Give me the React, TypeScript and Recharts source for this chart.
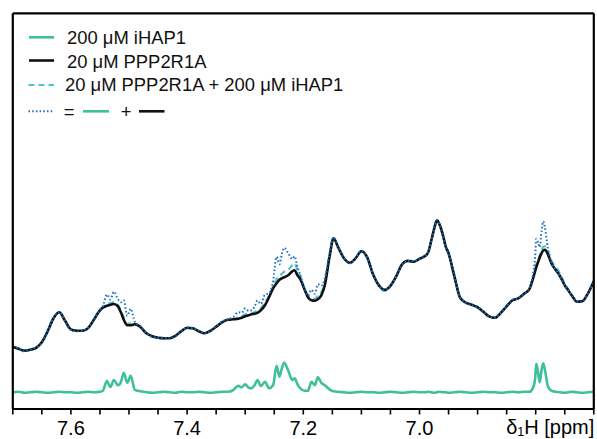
import React from 'react';
import { LineChart, Line, XAxis, YAxis, Customized, Label } from 'recharts';

// Chemical shift grid (ppm), denser around the iHAP1 multiplets
const ppm = [
  7.70, 7.69, 7.68, 7.67, 7.66, 7.65, 7.64, 7.63, 7.62, 7.61, 7.60, 7.59, 7.58, 7.57, 7.56, 7.55,
  7.545, 7.538, 7.532, 7.526, 7.519, 7.514, 7.509, 7.503, 7.497, 7.49,
  7.48, 7.47, 7.46, 7.45, 7.44, 7.43, 7.42, 7.41, 7.40, 7.39, 7.38, 7.37, 7.36, 7.35, 7.34, 7.33,
  7.32, 7.312, 7.306, 7.30, 7.294, 7.289, 7.284, 7.279, 7.273, 7.266, 7.259, 7.252, 7.246, 7.241, 7.237,
  7.233, 7.226, 7.219, 7.215, 7.21, 7.205, 7.198, 7.192, 7.186, 7.18, 7.175, 7.169, 7.163, 7.155, 7.148,
  7.14, 7.13, 7.12, 7.11, 7.10, 7.09, 7.08, 7.07, 7.06, 7.05, 7.04, 7.03, 7.02, 7.01, 7.00, 6.99,
  6.985, 6.98, 6.975, 6.97, 6.965, 6.96, 6.955, 6.95, 6.94, 6.93, 6.92, 6.91, 6.90, 6.89, 6.88, 6.87,
  6.86, 6.85, 6.84, 6.83, 6.82,
  6.811, 6.805, 6.801, 6.799, 6.796, 6.793, 6.79, 6.787, 6.784, 6.779, 6.773, 6.765, 6.758, 6.75,
  6.744, 6.737, 6.729, 6.72, 6.71, 6.70,
];

// 200 µM iHAP1 alone
const ihap1 = [
  0, 0.5, -0.5, 0, 0.5, 0, -0.5, 0, 0.5, 0, 0, -0.5, 0, 0.5, 0, 0.5,
  1.5, 11.3, 5.3, 12.3, 7, 10, 19.5, 9.5, 16.5, 2.5,
  1, 0, -0.5, 0, 0.5, 0, -0.5, 0.5, 0, 0, 0.5, 0, -0.5, 0, 0.5, 0.5,
  2.5, 6.5, 5, 8, 4.5, 4, 7, 12.3, 6.3, 10.6, 4, 7, 26.5, 15.5, 24,
  29.5, 22, 12.3, 14, 8, 4, 1.5, 1.5, 10.5, 7, 15, 9.5, 7, 3, 1,
  0.5, 0, -0.5, 0, 0.5, 0, 0, -0.5, 0, 0.5, 0, -0.5, 0, 0.5, 0, 0,
  0.5, 0, -0.5, 0, 0.5, 0, 0, -0.5, 0, 0.5, 0, -0.5, 0, 0.5, 0, 0,
  -0.5, 0, 0.5, 0, 0.5,
  0.5, 4, 14, 28.5, 20, 10, 22, 29, 22, 6, 1.5, 0.5, 0, -0.5,
  0, 0.5, 0, -0.5, 0, 0.5,
];

// 20 µM PPP2R1A alone
const ppp2r1a = [
  45.5, 43.5, 41.5, 42.5, 44.5, 50, 61, 74, 80, 71.5, 63, 61.5, 61.5, 64.5, 73, 82,
  84.5, 86.5, 87.5, 88.3, 86, 80, 72.5, 67, 67, 68,
  65, 59, 56, 54.5, 54, 54, 56.5, 61, 64.5, 64, 61, 59, 61.5, 65.5, 70, 72.5,
  73, 73.5, 74.5, 76, 77, 78, 78.5, 79.5, 82, 87, 95, 104, 109, 112.5, 114,
  115, 117, 121, 122, 117, 113, 103, 95, 92, 91.5, 93, 97, 107, 135, 154,
  145, 134, 129.5, 134, 141, 135, 118, 107, 102.5, 106.5, 116, 128, 131.5, 130.5, 133.5, 136.5,
  140, 151, 163, 172, 167, 158, 146, 139, 116, 94.5, 89.6, 87.5, 85, 80.5, 76, 74.5,
  79.5, 86, 92, 94, 98.5,
  103, 113, 121, 125, 130, 135, 139, 142, 142.5, 138, 129, 122, 116, 107,
  102, 96, 90.5, 91, 99, 111,
];

// 20 µM PPP2R1A + 200 µM iHAP1, measured together
const mixture = [
  45.5, 43, 42, 42.5, 44, 50.5, 61, 73.5, 80.5, 71.5, 62.5, 62, 61.5, 64.5, 73.5, 82.5,
  85.5, 88.5, 89, 90.3, 87.5, 82, 75, 68.5, 69, 68.5,
  65.5, 59, 55.5, 55, 54, 54, 57, 61, 64, 64, 61.5, 59, 61.5, 66, 70, 73,
  73.5, 75, 76, 78, 78.5, 79, 80, 82.5, 84, 90, 96.5, 106, 113, 116, 118.5,
  120.5, 122.5, 127, 129, 122, 116, 104, 96, 94.5, 93.5, 96.5, 100, 109.5, 136, 154.5,
  145, 134.5, 129, 134, 141.5, 134.5, 118, 106, 101.5, 106.5, 116.5, 128, 131, 130.5, 134, 136.5,
  140, 151.5, 163, 172.5, 167, 157.5, 146, 139.5, 116, 95, 89.1, 87.5, 85.5, 80.5, 75.5, 74.5,
  80, 86, 92.5, 94, 99,
  103.5, 114, 123, 128, 132.5, 137, 142, 145.5, 146, 141, 131.5, 125, 118.5, 108.5,
  103, 96.5, 90.5, 91.5, 99, 111.5,
];

// Arithmetic sum of the two individual spectra
const sumSpectrum = [
  45.5, 44, 41, 42.5, 45, 50, 60.5, 74, 80.5, 71.5, 63, 61, 61.5, 65, 73, 82.5,
  86, 97.8, 92.8, 100.6, 93, 90, 92, 76.5, 83.5, 70.5,
  66, 59, 55.5, 54.5, 54.5, 54, 56, 61.5, 64.5, 64, 61.5, 59, 61, 65.5, 70.5, 73,
  75.5, 80, 79.5, 84, 81.5, 82, 85.5, 91.8, 88.3, 97.6, 99, 111, 135.5, 128, 138,
  144.5, 139, 133.3, 136, 125, 117, 104.5, 96.5, 102.5, 98.5, 108, 106.5, 114, 138, 155,
  145.5, 134, 129, 134, 141.5, 135, 118, 106.5, 102.5, 107, 116, 127.5, 131.5, 131, 133.5, 136.5,
  140.5, 151, 162.5, 172, 167.5, 158, 146, 138.5, 116, 95, 89.6, 87, 85, 81, 76, 74.5,
  79, 86, 92.5, 94, 99,
  103.5, 117, 135, 153.5, 150, 145, 161, 171, 164.5, 144, 130.5, 122.5, 116, 106.5,
  102, 96.5, 90.5, 90.5, 99, 111.5,
];

const axisTicks = [
  7.7, 7.65, 7.6, 7.55, 7.5, 7.45, 7.4, 7.35, 7.3, 7.25, 7.2,
  7.15, 7.1, 7.05, 7.0, 6.95, 6.9, 6.85, 6.8, 6.75, 6.7,
];
const labeledTicks = [7.6, 7.4, 7.2, 7.0];

const seriesNames = {
  ihap1: '200 μM iHAP1',
  ppp2r1a: '20 μM PPP2R1A',
  mixture: '20 μM PPP2R1A + 200 μM iHAP1',
};

const data = ppm.map((p, i) => ({
  ppm: p,
  ihap1: ihap1[i],
  ppp2r1a: ppp2r1a[i],
  mixture: mixture[i],
  sum: sumSpectrum[i],
}));

const FONT = '"Liberation Sans", Arial, Helvetica, sans-serif';
const GREEN = '#3fbf9b';
const BLACK = '#111111';
const CYAN = '#4fc3cc';
const BLUE = '#1c6fc4';
const Y_DOMAIN: [number, number] = [-16.7, 379];
const X_DOMAIN: [number, number] = [6.7, 7.7];
const FRAME = { stroke: '#000', strokeWidth: 2.2 };

const PpmTick = (props: any) => {
  const { x, y, payload } = props;
  const v = payload.value as number;
  const show = labeledTicks.some((t) => Math.abs(t - v) < 1e-6);
  if (!show) return <g />;
  return (
    <text x={x} y={y + 20.5} textAnchor="middle" fontSize={20} fontFamily={FONT} fill="#000">
      {v.toFixed(1)}
    </text>
  );
};

const AxisTitle = (props: any) => {
  const vb = props.viewBox || {};
  const right = (vb.x ?? 12.8) + (vb.width ?? 581);
  const base = (vb.y ?? 409) + 24.5;
  return (
    <text x={right + 0.5} y={base} textAnchor="end" fontSize={20} fontFamily={FONT} fill="#000">
      δ
      <tspan fontSize={12.5} dy={2.5}>1</tspan>
      <tspan dy={-2.5}>H [ppm]</tspan>
    </text>
  );
};

const LegendBlock = () => (
  <g fontFamily={FONT} fontSize={18.4} fill="#111">
    <line x1={29} x2={54} y1={37.3} y2={37.3} stroke={GREEN} strokeWidth={2.6} />
    <text x={67} y={44}>{seriesNames.ihap1}</text>

    <line x1={29} x2={54} y1={60.5} y2={60.5} stroke={BLACK} strokeWidth={2.6} />
    <text x={67} y={67.5}>{seriesNames.ppp2r1a}</text>

    <line x1={28.5} x2={54} y1={85} y2={85} stroke={CYAN} strokeWidth={2.2} strokeDasharray="6 4" />
    <text x={65} y={91.3}>{seriesNames.mixture}</text>

    <line x1={28.5} x2={54} y1={111.3} y2={111.3} stroke={BLUE} strokeWidth={2} strokeDasharray="1.5 2.2" />
    <text x={69} y={117.5} textAnchor="middle">=</text>
    <line x1={83} x2={109} y1={111.3} y2={111.3} stroke={GREEN} strokeWidth={2.6} />
    <text x={126} y={117.5} textAnchor="middle">+</text>
    <line x1={139} x2={164.5} y1={111.3} y2={111.3} stroke={BLACK} strokeWidth={2.6} />
  </g>
);

export default function App() {
  return (
    <div style={{ position: 'absolute', left: 0, top: 0, width: 597, height: 439, background: '#fff' }}>
      <LineChart
        width={597}
        height={439}
        data={data}
        margin={{ top: 12.3, right: 2.2, bottom: 0, left: 11.8 }}
      >
        <XAxis
          dataKey="ppm"
          type="number"
          domain={X_DOMAIN}
          reversed
          allowDataOverflow
          ticks={axisTicks}
          interval={0}
          height={30}
          axisLine={FRAME}
          tickLine={{ stroke: '#000', strokeWidth: 1.6 }}
          tickSize={5.5}
          tickMargin={0}
          tick={<PpmTick />}
        >
          <Label content={<AxisTitle />} />
        </XAxis>
        <XAxis
          xAxisId="top"
          orientation="top"
          dataKey="ppm"
          type="number"
          domain={X_DOMAIN}
          reversed
          allowDataOverflow
          height={1}
          axisLine={FRAME}
          tick={false}
          tickLine={false}
        />
        <YAxis
          type="number"
          domain={Y_DOMAIN}
          allowDataOverflow
          width={1}
          axisLine={FRAME}
          tick={false}
          tickLine={false}
        />
        <YAxis
          yAxisId="right"
          orientation="right"
          type="number"
          domain={Y_DOMAIN}
          allowDataOverflow
          width={1}
          axisLine={FRAME}
          tick={false}
          tickLine={false}
        />
        <Line dataKey="ihap1" type="monotone" stroke={GREEN} strokeWidth={2.6} dot={false} activeDot={false} isAnimationActive={false} />
        <Line dataKey="mixture" type="monotone" stroke={CYAN} strokeWidth={2.2} strokeDasharray="6 4" dot={false} activeDot={false} isAnimationActive={false} />
        <Line dataKey="ppp2r1a" type="monotone" stroke={BLACK} strokeWidth={2.6} dot={false} activeDot={false} isAnimationActive={false} />
        <Line dataKey="sum" type="monotone" stroke={BLUE} strokeWidth={2} strokeDasharray="1.5 2.2" dot={false} activeDot={false} isAnimationActive={false} />
        <Customized component={LegendBlock} />
      </LineChart>
    </div>
  );
}
